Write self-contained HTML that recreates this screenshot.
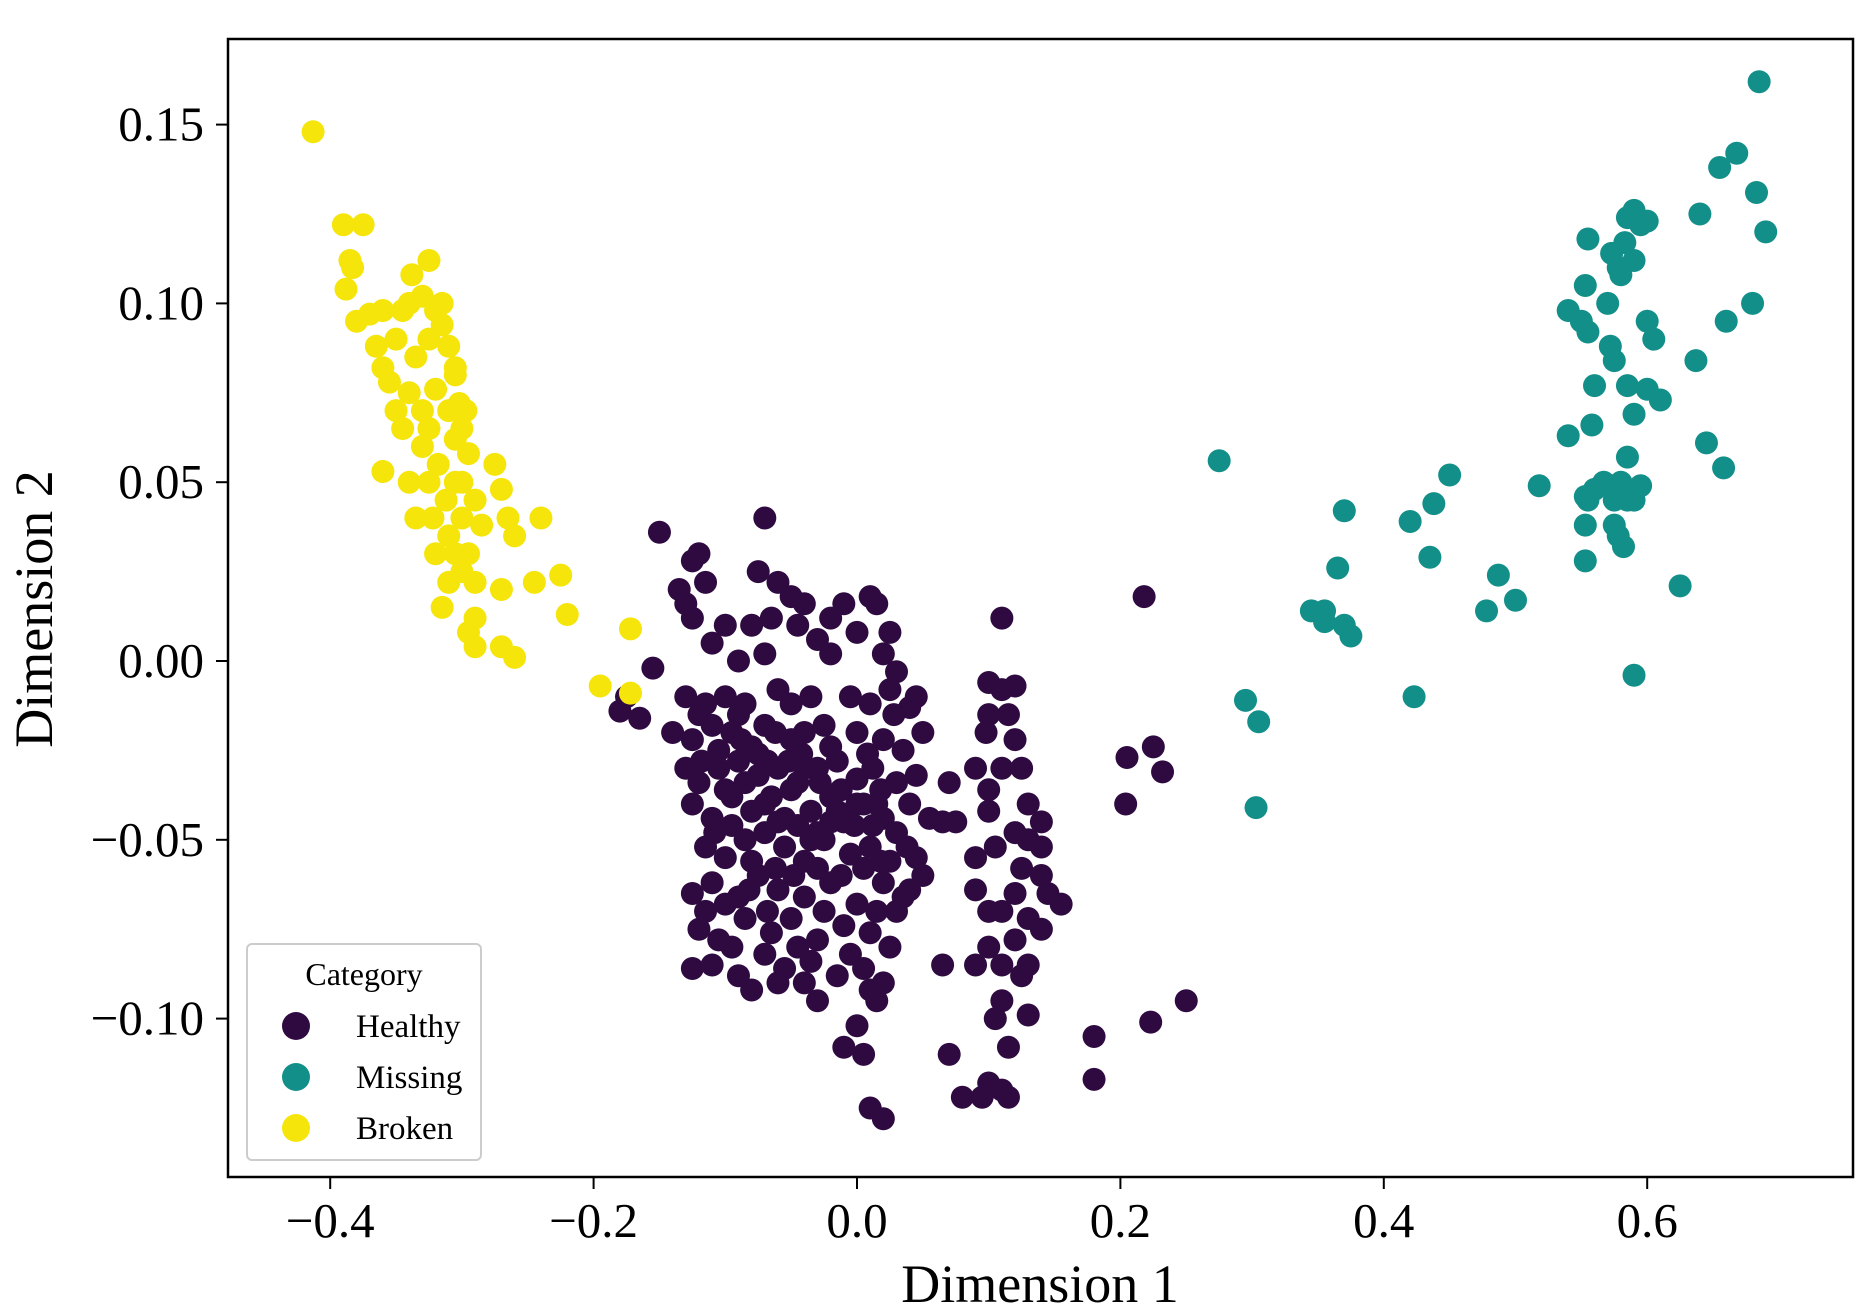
<!DOCTYPE html>
<html><head><meta charset="utf-8"><style>
html,body{margin:0;padding:0;background:#fff;}
svg{display:block;font-family:"Liberation Serif",serif;}
</style></head><body>
<svg id="chart" width="1871" height="1314" viewBox="0 0 1871 1314">
<rect x="0" y="0" width="1871" height="1314" fill="#fff"/>
<g id="marks"></g>
<g id="axes"></g>
</svg>
<script>
const categories = ["Healthy","Missing","Broken"];
const colors = ["#2e0a40","#138f89","#f5e50a"];
const xTicks = [-0.4,-0.2,0.0,0.2,0.4,0.6];
const xTickLabels = ["\u22120.4","\u22120.2","0.0","0.2","0.4","0.6"];
const yTicks = [0.15,0.10,0.05,0.00,-0.05,-0.10];
const yTickLabels = ["0.15","0.10","0.05","0.00","\u22120.05","\u22120.10"];
const healthyPoints = [[-0.15,0.036],[-0.07,0.04],[-0.125,0.028],[-0.12,0.03],[-0.135,0.02],[-0.115,0.022],[-0.075,0.025],[-0.06,0.022],[-0.05,0.018],[-0.04,0.016],[-0.02,0.012],[-0.01,0.016],[0.01,0.018],[0.015,0.016],[0.025,0.008],[0.0,0.008],[-0.03,0.006],[-0.045,0.01],[-0.065,0.012],[-0.08,0.01],[-0.1,0.01],[-0.125,0.012],[-0.13,0.016],[-0.11,0.005],[-0.09,0.0],[-0.07,0.002],[-0.02,0.002],[0.02,0.002],[0.03,-0.003],[-0.155,-0.002],[-0.165,-0.016],[-0.18,-0.014],[-0.175,-0.01],
[-0.13,-0.01],[-0.115,-0.012],[-0.1,-0.01],[-0.085,-0.012],[-0.06,-0.008],[-0.035,-0.01],[-0.005,-0.01],[0.025,-0.008],[0.04,-0.013],
[-0.14,-0.02],[-0.125,-0.022],[-0.11,-0.018],[-0.095,-0.02],[-0.08,-0.024],[-0.07,-0.018],[-0.05,-0.022],[-0.04,-0.02],[-0.02,-0.024],[0.0,-0.02],[0.02,-0.022],[0.035,-0.025],[0.05,-0.02],
[-0.13,-0.03],[-0.12,-0.034],[-0.105,-0.03],[-0.09,-0.028],[-0.075,-0.032],[-0.06,-0.03],[-0.045,-0.034],[-0.03,-0.03],[-0.015,-0.028],[0.0,-0.033],[0.012,-0.03],[0.03,-0.034],[0.045,-0.032],
[-0.125,-0.04],[-0.11,-0.044],[-0.095,-0.038],[-0.08,-0.042],[-0.065,-0.038],[-0.05,-0.036],[-0.035,-0.042],[-0.02,-0.038],[-0.01,-0.045],[0.005,-0.04],[0.02,-0.044],[0.04,-0.04],[0.055,-0.044],
[-0.115,-0.052],[-0.1,-0.055],[-0.085,-0.05],[-0.07,-0.048],[-0.055,-0.052],[-0.04,-0.056],[-0.025,-0.05],[-0.005,-0.054],[0.01,-0.052],[0.025,-0.056],[0.045,-0.055],
[-0.125,-0.065],[-0.11,-0.062],[-0.09,-0.066],[-0.075,-0.06],[-0.06,-0.064],[-0.04,-0.066],[-0.02,-0.062],[0.0,-0.068],[0.02,-0.062],[0.035,-0.066],[0.05,-0.06],
[-0.12,-0.075],[-0.105,-0.078],[-0.085,-0.072],[-0.065,-0.076],[-0.05,-0.072],[-0.03,-0.078],[-0.01,-0.074],[0.01,-0.076],[0.025,-0.08],
[-0.125,-0.086],[-0.11,-0.085],[-0.09,-0.088],[-0.07,-0.082],[-0.055,-0.086],[-0.035,-0.084],[-0.015,-0.088],[0.005,-0.086],[0.02,-0.09],
[-0.08,-0.092],[-0.03,-0.095],[0.015,-0.095],[0.0,-0.102],[-0.01,-0.108],[0.005,-0.11],[0.01,-0.125],[0.02,-0.128],
[-0.12,-0.015],[-0.105,-0.025],[-0.09,-0.015],[-0.075,-0.026],[-0.062,-0.02],[-0.052,-0.028],[-0.042,-0.026],[-0.028,-0.034],[-0.012,-0.036],[0.008,-0.026],[0.018,-0.036],[0.028,-0.015],
[-0.118,-0.028],[-0.1,-0.036],[-0.085,-0.034],[-0.07,-0.04],[-0.055,-0.044],[-0.045,-0.046],[-0.03,-0.048],[-0.015,-0.042],[-0.002,-0.046],[0.012,-0.046],[0.03,-0.048],[0.038,-0.052],
[-0.108,-0.048],[-0.095,-0.046],[-0.08,-0.056],[-0.062,-0.058],[-0.048,-0.06],[-0.03,-0.058],[-0.012,-0.06],[0.005,-0.058],[0.018,-0.056],[0.03,-0.07],[0.04,-0.064],
[-0.1,-0.068],[-0.082,-0.064],[-0.068,-0.07],[-0.045,-0.08],[-0.025,-0.07],[-0.005,-0.082],[0.015,-0.07],[-0.115,-0.07],[-0.095,-0.08],[-0.06,-0.09],[-0.04,-0.09],[0.01,-0.092],
[-0.06,-0.045],[-0.04,-0.03],[-0.02,-0.045],[0.0,-0.04],[0.015,-0.04],[-0.035,-0.05],[-0.088,-0.022],[-0.068,-0.028],[-0.05,-0.012],[-0.025,-0.018],[0.01,-0.012],[0.045,-0.01],
[0.11,0.012],[0.1,-0.006],[0.11,-0.008],[0.12,-0.007],[0.1,-0.015],[0.115,-0.015],[0.098,-0.02],[0.12,-0.022],[0.09,-0.03],[0.11,-0.03],[0.125,-0.03],[0.07,-0.034],[0.1,-0.036],[0.13,-0.04],[0.14,-0.045],[0.075,-0.045],[0.1,-0.042],[0.12,-0.048],[0.13,-0.05],[0.105,-0.052],[0.09,-0.055],[0.14,-0.052],[0.125,-0.058],[0.14,-0.06],[0.145,-0.065],[0.155,-0.068],[0.12,-0.065],[0.09,-0.064],[0.11,-0.07],[0.13,-0.072],[0.1,-0.07],[0.12,-0.078],[0.14,-0.075],[0.09,-0.085],[0.1,-0.08],[0.11,-0.085],[0.125,-0.088],[0.13,-0.085],[0.11,-0.095],[0.105,-0.1],[0.115,-0.108],[0.13,-0.099],[0.065,-0.085],[0.07,-0.11],[0.08,-0.122],[0.095,-0.122],[0.1,-0.118],[0.11,-0.12],[0.115,-0.122],
[0.218,0.018],[0.205,-0.027],[0.225,-0.024],[0.232,-0.031],[0.204,-0.04],[0.18,-0.105],[0.18,-0.117],[0.223,-0.101],[0.25,-0.095],[0.065,-0.045]];
const missingPoints = [[0.275,0.056],[0.295,-0.011],[0.305,-0.017],[0.303,-0.041],[0.345,0.014],[0.355,0.014],[0.355,0.011],[0.365,0.026],[0.37,0.042],[0.37,0.01],[0.375,0.007],[0.42,0.039],[0.423,-0.01],[0.435,0.029],[0.438,0.044],[0.45,0.052],[0.478,0.014],[0.487,0.024],[0.5,0.017],[0.518,0.049],[0.54,0.063],[0.54,0.098],[0.55,0.095],[0.553,0.105],[0.555,0.118],[0.555,0.092],[0.553,0.046],[0.553,0.038],[0.553,0.028],[0.56,0.048],[0.56,0.077],[0.558,0.066],[0.57,0.1],[0.572,0.088],[0.575,0.084],[0.573,0.114],[0.578,0.11],[0.58,0.108],[0.583,0.117],[0.585,0.124],[0.59,0.126],[0.595,0.122],[0.6,0.123],[0.59,0.112],[0.585,0.077],[0.59,0.069],[0.6,0.076],[0.605,0.09],[0.6,0.095],[0.61,0.073],[0.585,0.057],[0.58,0.05],[0.575,0.045],[0.57,0.049],[0.585,0.045],[0.595,0.049],[0.59,0.045],[0.575,0.038],[0.578,0.035],[0.582,0.032],[0.59,-0.004],[0.625,0.021],[0.637,0.084],[0.64,0.125],[0.645,0.061],[0.655,0.138],[0.658,0.054],[0.66,0.095],[0.668,0.142],[0.68,0.1],[0.683,0.131],[0.685,0.162],[0.69,0.12],[0.567,0.05],[0.555,0.045]];
const brokenPoints = [[-0.413,0.148],[-0.39,0.122],[-0.375,0.122],[-0.385,0.112],[-0.388,0.104],[-0.383,0.11],[-0.38,0.095],[-0.37,0.097],[-0.365,0.088],[-0.36,0.082],[-0.355,0.078],[-0.35,0.09],[-0.345,0.098],[-0.34,0.1],[-0.338,0.108],[-0.33,0.102],[-0.325,0.112],[-0.32,0.098],[-0.315,0.094],[-0.31,0.088],[-0.305,0.082],[-0.335,0.085],[-0.34,0.075],[-0.33,0.07],[-0.325,0.065],[-0.32,0.076],[-0.31,0.07],[-0.305,0.062],[-0.3,0.065],[-0.295,0.058],[-0.33,0.06],[-0.325,0.05],[-0.318,0.055],[-0.312,0.045],[-0.305,0.05],[-0.3,0.04],[-0.29,0.045],[-0.285,0.038],[-0.31,0.035],[-0.305,0.03],[-0.3,0.025],[-0.295,0.03],[-0.31,0.022],[-0.29,0.022],[-0.36,0.053],[-0.34,0.05],[-0.275,0.055],[-0.27,0.048],[-0.265,0.04],[-0.26,0.035],[-0.24,0.04],[-0.27,0.02],[-0.245,0.022],[-0.225,0.024],[-0.22,0.013],[-0.29,0.012],[-0.295,0.008],[-0.29,0.004],[-0.27,0.004],[-0.26,0.001],[-0.172,0.009],[-0.195,-0.007],[-0.172,-0.009],[-0.315,0.015],[-0.32,0.03],[-0.335,0.04],[-0.345,0.065],[-0.35,0.07],[-0.302,0.072],[-0.297,0.07],[-0.325,0.09],[-0.315,0.1],[-0.36,0.098],[-0.305,0.08],[-0.322,0.04],[-0.3,0.05]];

const NS = "http://www.w3.org/2000/svg";
const L = 228, R = 1853, T = 39, B = 1177;
function xScale(v){ return 857 + v * 1317; }
function yScale(v){ return 661 - v * 3576; }
function mk(tag, attrs, parent){ const e = document.createElementNS(NS, tag); for (const k in attrs) e.setAttribute(k, attrs[k]); parent.appendChild(e); return e; }

const marks = document.getElementById('marks');
const axes = document.getElementById('axes');
const series = [healthyPoints, missingPoints, brokenPoints];
series.forEach((pts, si) => {
  const g = mk('g', {}, marks);
  
  
  pts.forEach(p => {
    const c = mk('circle', {cx: xScale(p[0]), cy: yScale(p[1]), r: 11.5, fill: colors[si]}, g);
    
    
  });
});

const frame = mk('rect', {x: L, y: T, width: R - L, height: B - T, fill: 'none', stroke: '#000', 'stroke-width': 2.5}, axes);



xTicks.forEach((v, i) => {
  const x = xScale(v);
  const t = mk('line', {x1: x, x2: x, y1: B, y2: B + 12, stroke: '#000', 'stroke-width': 2}, axes);
  
  
  const lb = mk('text', {x: x, y: B + 60, 'font-size': 49, 'text-anchor': 'middle', fill: '#000'}, axes);
  lb.textContent = xTickLabels[i];
  
  
});
yTicks.forEach((v, i) => {
  const y = yScale(v);
  const t = mk('line', {x1: L - 12, x2: L, y1: y, y2: y, stroke: '#000', 'stroke-width': 2}, axes);
  
  
  const lb = mk('text', {x: L - 24, y: y + 16, 'font-size': 49, 'text-anchor': 'end', fill: '#000'}, axes);
  lb.textContent = yTickLabels[i];
  
  
});

const xt = mk('text', {x: 1040, y: 1302, 'font-size': 54, 'text-anchor': 'middle', fill: '#000'}, axes);
xt.textContent = 'Dimension 1';


const yt = mk('text', {x: 0, y: 0, 'font-size': 54, 'text-anchor': 'middle', fill: '#000', transform: 'translate(52,609) rotate(-90)'}, axes);
yt.textContent = 'Dimension 2';



const lg = mk('g', {}, axes);


const lbox = mk('rect', {x: 247, y: 944, width: 234, height: 216, rx: 5, fill: '#fff', 'fill-opacity': 0.85, stroke: '#cccccc', 'stroke-width': 2}, lg);


const lt = mk('text', {x: 364, y: 985, 'font-size': 32, 'text-anchor': 'middle', fill: '#000'}, lg);
lt.textContent = 'Category';


categories.forEach((c, i) => {
  const y = 1026 + i * 51;
  const d = mk('circle', {cx: 296, cy: y, r: 14, fill: colors[i]}, lg);
  
  
  const tx = mk('text', {x: 356, y: y + 11, 'font-size': 33, fill: '#000'}, lg);
  tx.textContent = c;
  
  
});
</script>
</body></html>
